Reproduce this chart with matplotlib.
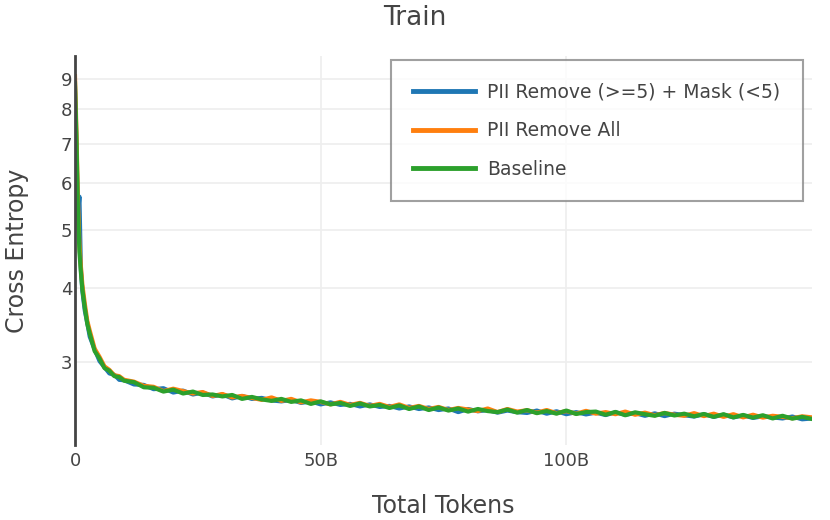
import matplotlib
matplotlib.use("Agg")
import matplotlib.pyplot as plt
from matplotlib.ticker import FixedLocator, NullLocator, FuncFormatter

# x positions in billions of tokens
tokens_b = [0, 0.3, 0.6, 0.9, 1.2, 1.5, 2, 2.5, 3, 4, 5, 6, 7, 8, 9, 10,
            12, 14, 16, 18, 20, 22, 24, 26, 28, 30,
            32, 34, 36, 38, 40, 42, 44, 46, 48, 50,
            52, 54, 56, 58, 60, 62, 64, 66, 68, 70,
            72, 74, 76, 78, 80, 82, 84, 86, 88, 90,
            92, 94, 96, 98, 100, 102, 104, 106, 108, 110,
            112, 114, 116, 118, 120, 122, 124, 126, 128, 130,
            132, 134, 136, 138, 140, 142, 144, 146, 148, 150]

pii_mask = [8.7, 6.8, 5.3, 5.7, 4.3, 3.95, 3.66, 3.49, 3.31, 3.15, 3.01, 2.94, 2.87, 2.855, 2.80, 2.795,
            2.75, 2.745, 2.70, 2.71, 2.665, 2.685, 2.645, 2.665, 2.625, 2.645,
            2.605, 2.63, 2.60, 2.61, 2.585, 2.575, 2.59, 2.56, 2.575, 2.545,
            2.565, 2.54, 2.55, 2.525, 2.545, 2.52, 2.53, 2.505, 2.525, 2.50,
            2.515, 2.49, 2.505, 2.47, 2.50, 2.478, 2.49, 2.465, 2.485, 2.47,
            2.462, 2.485, 2.455, 2.478, 2.45, 2.47, 2.448, 2.465, 2.442, 2.468,
            2.445, 2.46, 2.435, 2.458, 2.432, 2.455, 2.44, 2.428, 2.45, 2.425,
            2.445, 2.42, 2.438, 2.415, 2.43, 2.42, 2.41, 2.428, 2.402, 2.41]

pii_remove_all = [9.1, 7.3, 5.6, 4.75, 4.35, 4.05, 3.76, 3.52, 3.39, 3.16, 3.06, 2.95, 2.91, 2.85, 2.84, 2.80,
                  2.78, 2.735, 2.725, 2.68, 2.705, 2.68, 2.655, 2.67, 2.63, 2.65,
                  2.615, 2.63, 2.61, 2.59, 2.615, 2.58, 2.60, 2.565, 2.585, 2.57,
                  2.545, 2.57, 2.54, 2.56, 2.53, 2.55, 2.52, 2.545, 2.51, 2.53,
                  2.50, 2.52, 2.49, 2.51, 2.495, 2.48, 2.505, 2.47, 2.50, 2.475,
                  2.488, 2.465, 2.49, 2.46, 2.48, 2.455, 2.482, 2.455, 2.47, 2.45,
                  2.475, 2.445, 2.465, 2.44, 2.462, 2.445, 2.435, 2.46, 2.432, 2.455,
                  2.425, 2.45, 2.42, 2.445, 2.418, 2.435, 2.425, 2.412, 2.43, 2.42]

baseline = [8.85, 7.1, 5.4, 4.6, 4.25, 3.98, 3.70, 3.48, 3.35, 3.13, 3.04, 2.93, 2.90, 2.84, 2.83, 2.79,
            2.775, 2.72, 2.715, 2.675, 2.695, 2.655, 2.675, 2.64, 2.645, 2.625,
            2.64, 2.60, 2.62, 2.595, 2.58, 2.60, 2.57, 2.585, 2.55, 2.575,
            2.545, 2.56, 2.53, 2.555, 2.525, 2.54, 2.51, 2.535, 2.50, 2.525,
            2.49, 2.515, 2.485, 2.505, 2.475, 2.50, 2.48, 2.47, 2.495, 2.465,
            2.49, 2.46, 2.48, 2.455, 2.485, 2.452, 2.47, 2.475, 2.445, 2.472,
            2.44, 2.468, 2.45, 2.435, 2.462, 2.438, 2.455, 2.43, 2.452, 2.425,
            2.45, 2.42, 2.443, 2.418, 2.44, 2.41, 2.435, 2.408, 2.425, 2.405]

series = [
    ("PII Remove (>=5) + Mask (<5)", pii_mask, "#1f77b4"),
    ("PII Remove All", pii_remove_all, "#ff7f0e"),
    ("Baseline", baseline, "#2ca02c"),
]

y_ticks = [3, 4, 5, 6, 7, 8, 9]
x_ticks = [0, 50, 100]

txt = "#444444"
plt.rcParams["font.family"] = ["DejaVu Sans"]

fig = plt.figure(figsize=(8.3, 5.2), dpi=100)
ax = fig.add_axes([75 / 830, 75 / 520, 737 / 830, 389 / 520])

for label, vals, color in series:
    ax.plot(tokens_b, vals, color=color, linewidth=3.0, label=label)

ax.set_yscale("log")
ax.set_xlim(0, 150)
ax.set_ylim(2.174, 9.84)
ax.yaxis.set_major_locator(FixedLocator(y_ticks))
ax.yaxis.set_minor_locator(NullLocator())
ax.yaxis.set_major_formatter(FuncFormatter(lambda v, p: f"{v:g}"))
ax.xaxis.set_major_locator(FixedLocator(x_ticks))
ax.xaxis.set_major_formatter(FuncFormatter(lambda v, p: "0" if v == 0 else f"{v:g}B"))

ax.grid(True, color="#eeeeee", linewidth=1.2)
ax.set_axisbelow(True)
for side in ["top", "right", "bottom"]:
    ax.spines[side].set_visible(False)
ax.spines["left"].set_color(txt)
ax.spines["left"].set_linewidth(2)
ax.spines["left"].set_zorder(5)
ax.tick_params(axis="both", length=0, labelsize=13, labelcolor=txt)
ax.tick_params(axis="y", pad=2)
ax.tick_params(axis="x", pad=5)

ax.set_xlabel("Total Tokens", fontsize=17, color=txt, labelpad=17)
ax.set_ylabel("Cross Entropy", fontsize=17, color=txt, labelpad=23)
fig.text(0.5, 1 - 18 / 520, "Train", ha="center", va="center", fontsize=19, color=txt)

leg = ax.legend(loc="upper right", bbox_to_anchor=(803 / 830, 1 - 60 / 520),
                bbox_transform=fig.transFigure, fontsize=13.5, frameon=True,
                fancybox=False, borderpad=1.2, labelspacing=1.05,
                handlelength=3.3, handletextpad=0.65, borderaxespad=0)
leg.get_frame().set_edgecolor("#888888")
leg.get_frame().set_linewidth(1.5)
for t in leg.get_texts():
    t.set_color(txt)
for h in leg.get_lines():
    h.set_linewidth(3.5)

fig.savefig("out.png", dpi=100)
